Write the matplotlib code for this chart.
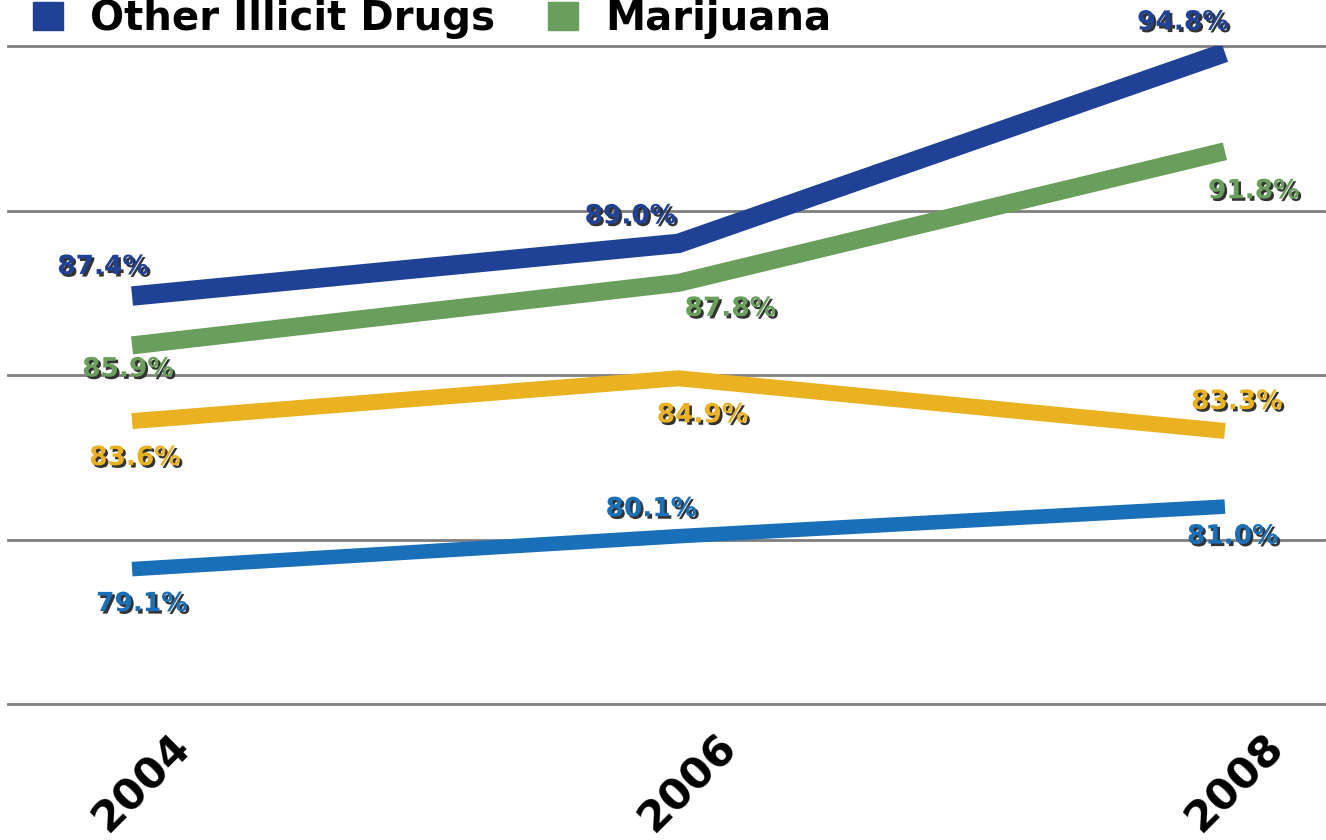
import numpy as np
import matplotlib.pyplot as plt
import matplotlib.patheffects as pe
from matplotlib.patches import Rectangle
from matplotlib.transforms import ScaledTranslation

years = ["2004", "2006", "2008"]
other_drugs = [87.4, 89.0, 94.8]
marijuana = [85.9, 87.8, 91.8]
series_yellow = [83.6, 84.9, 83.3]
series_lightblue = [79.1, 80.1, 81.0]

colors = {
    "other": "#1f4196",
    "mj": "#6a9e5c",
    "yellow": "#eab120",
    "light": "#1a70b8",
}

# label offsets in pixels (dx, dy) from each point
offsets_other = [(-29, 29), (-48, 27), (-42, 30)]
offsets_mj = [(-4, -24), (52, -26), (29, -40)]
offsets_yellow = [(3, -37), (24, -37), (12, 29)]
offsets_light = [(10, -35), (-27, 27), (8, -30)]

W, H = 1326, 840
fig = plt.figure(figsize=(W / 100, H / 100), dpi=100)
ax = fig.add_axes([8 / W, 1 - 704 / H, 1 - 8 / W, (704 - 46) / H])

x = np.arange(len(years))
ax.set_xlim(-0.227, 2.185)
ax.set_ylim(75, 95)
ax.set_yticks([75, 80, 85, 90, 95])
ax.yaxis.grid(True, color="#7f7f7f", lw=2)
for gl in ax.get_ygridlines():
    gl.set_clip_on(False)
ax.set_axisbelow(True)
ax.tick_params(axis="y", left=False, labelleft=False)
ax.tick_params(axis="x", length=0, pad=16)
for s in ax.spines.values():
    s.set_visible(False)

shadow = [pe.withSimplePatchShadow(offset=(1.8, -1.8), shadow_rgbFace="#333333", alpha=1.0)]

def draw(vals, col, lw, offs):
    ax.plot(x, vals, color=col, lw=lw, solid_capstyle="butt", solid_joinstyle="miter")
    for xi, v, (dx, dy) in zip(x, vals, offs):
        ax.annotate(f"{v:.1f}%", (xi, v), xytext=(dx, dy), textcoords="offset pixels",
                    ha="center", va="center", fontsize=19, fontweight="bold",
                    color=col, path_effects=shadow, annotation_clip=False)

draw(series_lightblue, colors["light"], 10.5, offsets_light)
draw(series_yellow, colors["yellow"], 11.5, offsets_yellow)
draw(marijuana, colors["mj"], 13, offsets_mj)
draw(other_drugs, colors["other"], 14, offsets_other)

ax.set_xticks(x, years, rotation=45, ha="center", fontsize=31, fontweight="bold")
shift = ScaledTranslation(10 / 100, 0, fig.dpi_scale_trans)
for lbl in ax.get_xticklabels():
    lbl.set_transform(lbl.get_transform() + shift)

# legend strip at the top
base = 1 - 30 / H
for x0, col, txt, tx in [(33, colors["other"], "Other Illicit Drugs", 90),
                         (548, colors["mj"], "Marijuana", 605)]:
    fig.patches.append(Rectangle((x0 / W, base), 30 / W, 28 / H, transform=fig.transFigure,
                                 color=col, clip_on=False))
    fig.text(tx / W, base, txt, fontsize=29, fontweight="bold", va="baseline", ha="left")

fig.savefig("out.png", dpi=100)
